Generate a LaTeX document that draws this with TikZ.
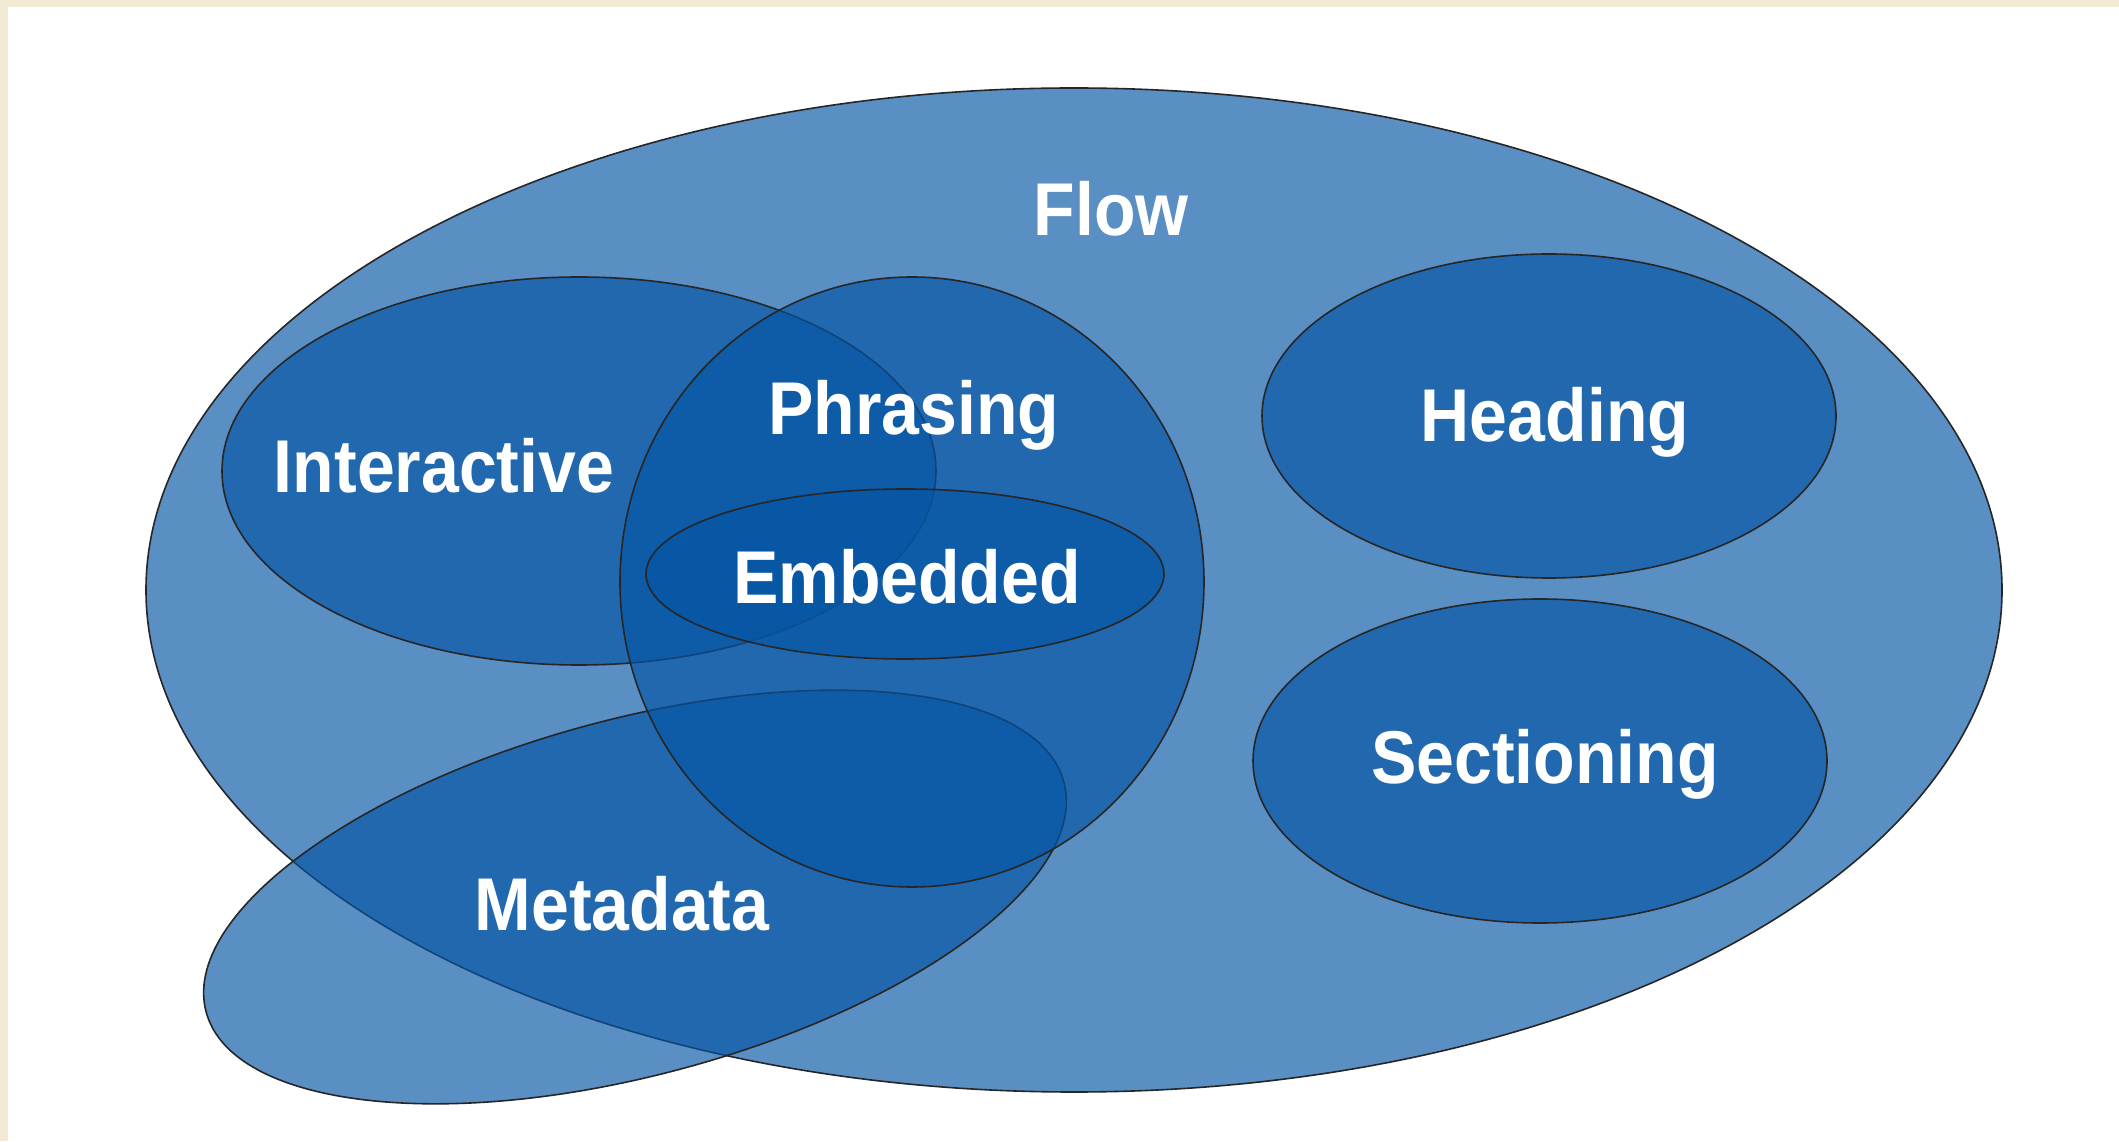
\documentclass[tikz,border=0pt]{standalone}
\usepackage{fontspec}
\setmainfont{Liberation Sans}
\definecolor{setblue}{RGB}{5,85,164}
\definecolor{frame}{RGB}{241,235,214}
\newcommand{\setlabel}[1]{\scalebox{1}[1.1]{\bfseries #1}}
\begin{document}
\begin{tikzpicture}[x=1pt,y=1pt,
        venn/.style={fill=setblue, fill opacity=0.66, draw=black!85, line width=1.6pt},
        lbl/.style={text=white, anchor=base, inner sep=0pt, font=\fontsize{68}{80}\selectfont}]
            % page and frame
            \fill[frame] (0,0) rectangle (2119,1141);
            \fill[white] (8,0) rectangle (2119,1134);
            % sets
            \filldraw[venn] (1074,551) ellipse [x radius=928, y radius=502];
            \filldraw[venn] (579,670) ellipse [x radius=357, y radius=194];
            \filldraw[venn, rotate around={15:(635,244)}] (635,244) ellipse [x radius=444, y radius=178];
            \filldraw[venn] (912,559) ellipse [x radius=292, y radius=305];
            \filldraw[venn] (905,567) ellipse [x radius=259, y radius=85];
            \filldraw[venn] (1549,725) ellipse [x radius=287, y radius=162];
            \filldraw[venn] (1540,380) ellipse [x radius=287, y radius=162];
            % labels
            \node[lbl] (flow) at (1111,905) {\setlabel{Flow}};
            \node[lbl] (interactive) at (444,648) {\setlabel{Interactive}};
            \node[lbl] (phrasing) at (914,706) {\setlabel{Phrasing}};
            \node[lbl] (embedded) at (907,537) {\setlabel{Embedded}};
            \node[lbl] (heading) at (1555,699) {\setlabel{Heading}};
            \node[lbl] (sectioning) at (1545,357) {\setlabel{Sectioning}};
            \node[lbl] (metadata) at (622,211) {\setlabel{Metadata}};
        \end{tikzpicture}
\end{document}
